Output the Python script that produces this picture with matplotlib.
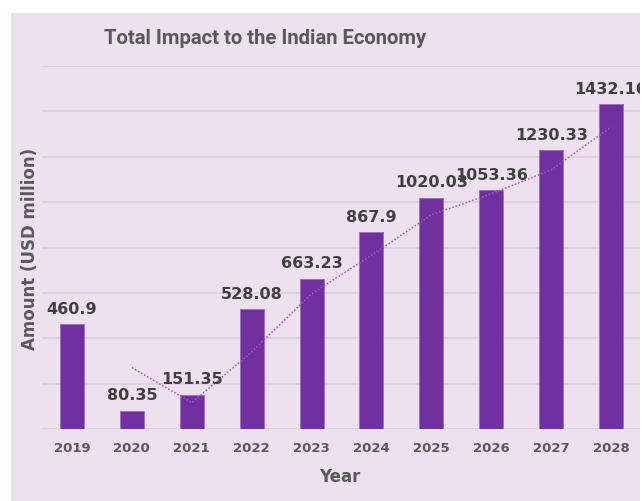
import numpy as np
import matplotlib
matplotlib.use("Agg")
import matplotlib.pyplot as plt
from matplotlib.patches import Rectangle

years = ["2019", "2020", "2021", "2022", "2023", "2024", "2025", "2026", "2027", "2028"]
amounts = [460.9, 80.35, 151.35, 528.08, 663.23, 867.9, 1020.03, 1053.36, 1230.33, 1432.16]
labels = ["460.9", "80.35", "151.35", "528.08", "663.23", "867.9", "1020.03", "1053.36", "1230.33", "1432.16"]

bg = "#ede0ef"
bar_color = "#7030a0"
text_dark = "#404040"
text_gray = "#595959"

fig = plt.figure(figsize=(6.44, 5.02), dpi=100, facecolor="white")
# chart panel (image is cropped: white strip on top/left, cut at right)
fig.patches.append(Rectangle((11 / 644, 0), (640 - 11) / 644, (502 - 14) / 502,
                             transform=fig.transFigure, facecolor=bg, edgecolor="none", zorder=-1))

ax = fig.add_axes([42 / 644, (502 - 430) / 502, (641 - 42) / 644, (430 - 67) / 502])
ax.set_facecolor("none")
ax.set_zorder(2)

x = np.arange(len(years))
ax.bar(x, amounts, width=0.4, color=bar_color, edgecolor="#a06cc0", linewidth=0.6, zorder=3)

# 2-period moving average trendline
ma = [(amounts[i - 1] + amounts[i]) / 2 for i in range(1, len(amounts))]
ax.plot(x[1:], ma, linestyle=(0, (1, 1.3)), color="#b54cbf", linewidth=1.1, zorder=4)

for xi, v, lab in zip(x, amounts, labels):
    ax.annotate(lab, (xi, v), xytext=(0, 6), textcoords="offset points",
                ha="center", va="bottom", fontsize=11.5, fontweight="bold",
                color=text_dark, zorder=5, annotation_clip=False)

ax.set_xlim(-0.5, 9.5)
ax.set_ylim(0, 1600)
ax.set_yticks(np.arange(0, 1601, 200))
ax.set_yticklabels([])
ax.yaxis.grid(True, color="#dad0dd", linewidth=1.2, zorder=0)
ax.tick_params(axis="both", length=0)
ax.set_xticks(x)
ax.set_xticklabels(years, fontsize=9.5, fontweight="bold", color=text_gray)
ax.tick_params(axis="x", pad=9)
for s in ax.spines.values():
    s.set_visible(False)

ax.set_xlabel("Year", fontsize=12, fontweight="bold", color=text_gray)
ax.xaxis.set_label_coords((340 - 42) / 599, -(468 - 430) / 363)
ax.set_ylabel("Amount (USD million)", fontsize=12, fontweight="bold", color=text_gray)
ax.yaxis.set_label_coords(-(42 - 39) / 599, (430 - 249) / 363)

fig.text(265 / 644, 1 - 38 / 502, "Total Impact to the Indian Economy", ha="center", va="center",
         fontsize=14.6, fontweight="bold", color=text_gray, family="Roboto")

# white strip at the right edge where the image was cut
fig.patches.append(Rectangle((640 / 644, 0), 4 / 644, 1, transform=fig.transFigure,
                             facecolor="white", edgecolor="none", zorder=10))

fig.savefig("out.png", dpi=100, facecolor="white")
